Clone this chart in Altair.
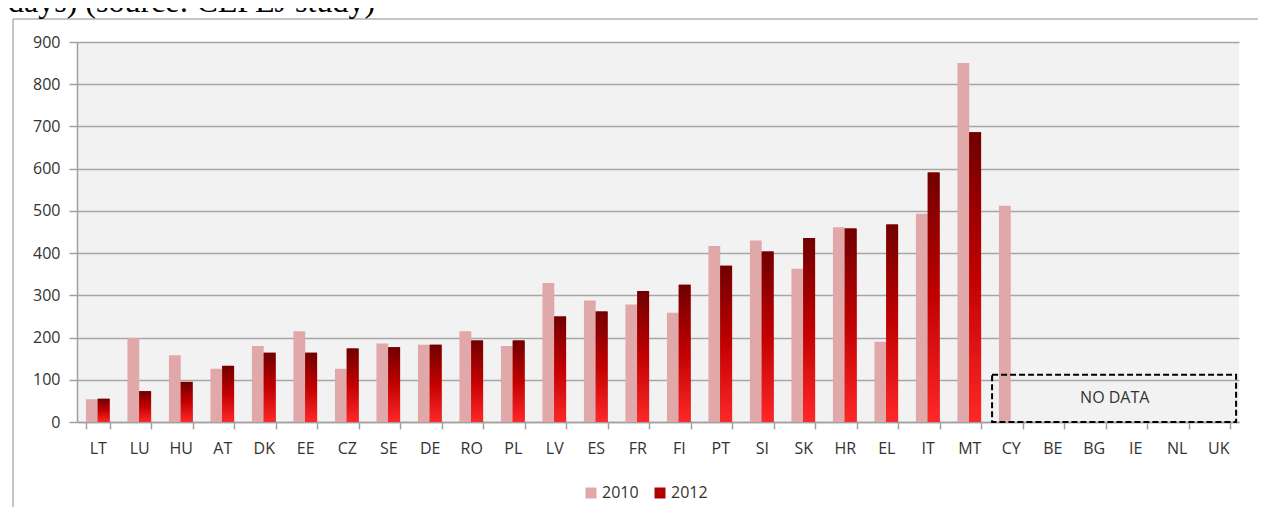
import altair as alt
import pandas as pd

countries = ["LT", "LU", "HU", "AT", "DK", "EE", "CZ", "SE", "DE", "RO", "PL", "LV", "ES", "FR",
             "FI", "PT", "SI", "SK", "HR", "EL", "IT", "MT", "CY", "BE", "BG", "IE", "NL", "UK"]
v2010 = [54, 199, 158, 126, 180, 215, 126, 186, 183, 215, 180, 329, 288, 278,
         259, 417, 430, 363, 461, 190, 493, 850, 512, None, None, None, None, None]
v2012 = [55, 73, 95, 133, 164, 164, 174, 177, 183, 193, 193, 250, 262, 310,
         325, 370, 404, 436, 458, 468, 591, 686, None, None, None, None, None, None]
years = ["2010", "2012"]
y_ticks = [0, 100, 200, 300, 400, 500, 600, 700, 800, 900]
heading = "days) (source: CEPEJ study)"
no_data = {"start": ["CY"], "end": ["UK"], "mid": ["BG"], "low": [0], "high": [112], "label": ["NO DATA"]}

rows = []
for c, a, b in zip(countries, v2010, v2012):
    if a is not None:
        rows.append({"country": c, "year": "2010", "value": a})
    if b is not None:
        rows.append({"country": c, "year": "2012", "value": b})
df = pd.DataFrame(rows)
df12 = df[df.year == "2012"]
box_df = pd.DataFrame(no_data)

W, H = 1162, 380
PAD = {"left": 69, "top": 34, "right": 19, "bottom": 85}
FONT = "Open Sans"

def x_scale():
    return alt.Scale(domain=countries, paddingInner=0.43, paddingOuter=0.215)

def xo_scale():
    return alt.Scale(domain=years, paddingInner=0, paddingOuter=0)

y_scale = alt.Scale(domain=[0, 900], nice=False)

x_enc = alt.X("country:N", sort=countries, scale=x_scale(),
              axis=alt.Axis(title=None, labelAngle=0, tickBand="extent", tickSize=7,
                            labelPadding=11, labelFont=FONT, labelFontSize=16,
                            labelColor="#333333", domainColor="#a0a0a0", tickColor="#a0a0a0",
                            domainWidth=1.5, tickWidth=1.5, grid=False))
y_enc = alt.Y("value:Q", scale=y_scale,
              axis=alt.Axis(title=None, values=y_ticks, grid=True, gridColor="#a6a6a6",
                            gridWidth=1.5, tickSize=8, tickColor="#a0a0a0", tickWidth=1.5,
                            domainColor="#a0a0a0", domainWidth=1.5, labelPadding=9,
                            labelFont=FONT, labelFontSize=16, labelColor="#333333"))

bars = alt.Chart(df).mark_bar().encode(
    x=x_enc, y=y_enc,
    xOffset=alt.XOffset("year:N", scale=xo_scale()),
    color=alt.Color("year:N",
                    scale=alt.Scale(domain=years, range=["#e0a8a8", "#b00000"]),
                    legend=alt.Legend(orient="none", legendX=506, legendY=443,
                                      direction="horizontal", title=None, symbolType="square",
                                      symbolSize=121, symbolStrokeWidth=0, labelFont=FONT,
                                      labelFontSize=16, labelColor="#333333", labelOffset=3,
                                      columnPadding=13, padding=0)))

grad = alt.Gradient(gradient="linear", x1=0, x2=0, y1=0, y2=1,
                    stops=[alt.GradientStop(color="#700000", offset=0),
                           alt.GradientStop(color="#c20000", offset=0.5),
                           alt.GradientStop(color="#ff2828", offset=1)])
bars12 = alt.Chart(df12).mark_bar(color=grad).encode(
    x=alt.X("country:N", sort=countries, scale=x_scale(), axis=None),
    y=alt.Y("value:Q", title=None),
    xOffset=alt.XOffset("year:N", scale=xo_scale()))

box_scale = alt.Scale(domain=countries, paddingInner=0, paddingOuter=0)
box = alt.Chart(box_df).mark_rect(fill=None, stroke="black", strokeWidth=2, strokeDash=[6, 3]).encode(
    x=alt.X("start:N", bandPosition=0.05, scale=box_scale, axis=None),
    x2=alt.X2("end:N", bandPosition=0.93),
    y=alt.Y("low:Q", title=None), y2="high:Q")
box_text = alt.Chart(box_df).mark_text(font=FONT, fontSize=16, color="#333333", baseline="middle",
                                       dx=21).encode(
    x=alt.X("mid:N", scale=box_scale, axis=None),
    y=alt.Y("m:Q", title=None), text="label:N"
).transform_calculate(m="(datum.low + datum.high) / 2")

frame_left = alt.Chart(box_df).mark_rule(color="#8c8c8c", strokeWidth=1).encode(
    x=alt.value(-64), y=alt.value(-23), y2=alt.value(H + PAD["bottom"]))
frame_top = alt.Chart(box_df).mark_rule(color="#8c8c8c", strokeWidth=1).encode(
    x=alt.value(-64), x2=alt.value(W + PAD["right"]), y=alt.value(-23))
head = alt.Chart(pd.DataFrame({"t": [heading]})).mark_text(
    font="Liberation Serif", fontSize=32, align="left", baseline="alphabetic", color="black"
).encode(x=alt.value(-69), y=alt.value(-30), text="t:N")

chart = alt.layer(bars, bars12, box, box_text, frame_left, frame_top, head).resolve_scale(
    x="independent", xOffset="independent"
).properties(
    width=W, height=H, padding=PAD, autosize=alt.AutoSizeParams(type="none"),
    view=alt.ViewBackground(fill="#f2f2f2", stroke=None)
).configure_view(fill="#f2f2f2", stroke=None).configure(background="white")

chart.save("out.html", embed_options={"renderer": "svg", "actions": False})
